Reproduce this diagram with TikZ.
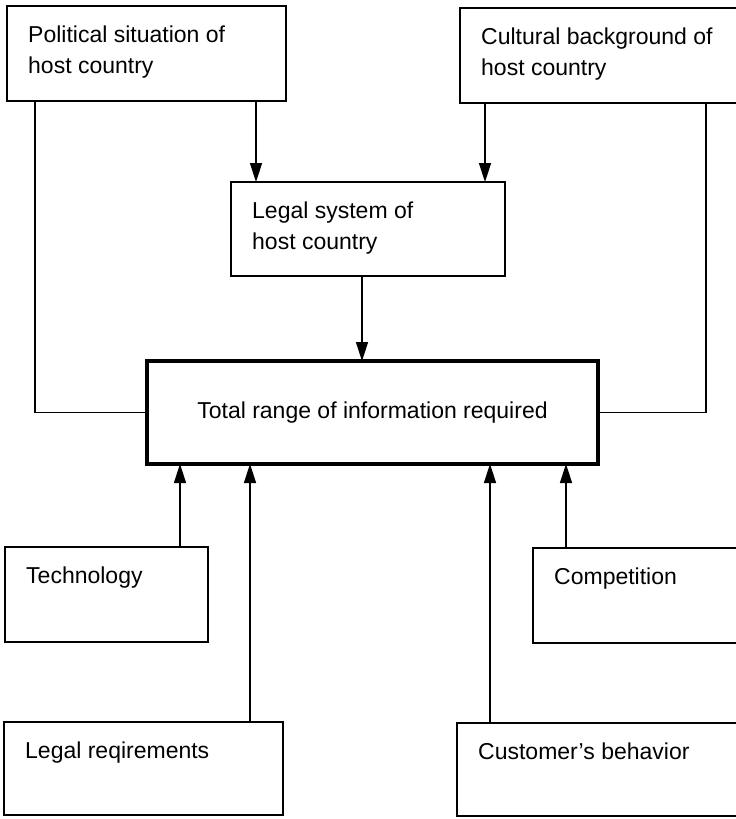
\documentclass[tikz,border=0pt]{standalone}
\usepackage{fontspec}
\setmainfont{Liberation Sans}
\usetikzlibrary{arrows.meta}
\begin{document}
\begin{tikzpicture}[x=1pt,y=-1pt,
  box/.style={draw, line width=1.5pt, rectangle, anchor=north west, inner sep=0pt, outer sep=0pt},
  mainbox/.style={draw, line width=3.8pt, rectangle, anchor=north west, inner sep=0pt, outer sep=0pt,
    font=\fontsize{23}{31}\selectfont},
  txt/.style={anchor=north west, inner sep=0pt, align=left, font=\fontsize{23}{31}\selectfont,
    xshift=21pt, yshift=-20pt},
  link/.style={line width=1.5pt},
  arr/.style={link, -{Triangle[length=19pt,width=12pt]}},
]
\clip (0,0) rectangle (736,819);

% top row
\node[box, minimum width=279pt, minimum height=95pt,
  label={[txt]north west:Political situation of\\host country}] (pol) at (7,6) {};
\node[box, minimum width=280pt, minimum height=95pt,
  label={[txt]north west:Cultural background of\\host country}] (cul) at (460,8) {};

% middle
\node[box, minimum width=274pt, minimum height=94pt,
  label={[txt]north west:Legal system of\\host country}] (leg) at (231,182) {};
\node[mainbox, minimum width=451pt, minimum height=103pt] (tot) at (147,361)
  {Total range of information required};

% lower boxes
\node[box, minimum width=203pt, minimum height=95pt,
  label={[txt]north west:Technology}] (tech) at (5,547) {};
\node[box, minimum width=207pt, minimum height=95pt,
  label={[txt]north west:Competition}] (comp) at (533,548) {};
\node[box, minimum width=279pt, minimum height=93pt,
  label={[txt]north west:Legal reqirements}] (lreq) at (4,722) {};
\node[box, minimum width=283pt, minimum height=93pt,
  label={[txt]north west:Customer's behavior}] (cust) at (457,723) {};

% influences on the legal system
\draw[arr] ([xshift=249pt]pol.south west) coordinate (pa) -- (pa |- leg.north);
\draw[arr] ([xshift=25pt]cul.south west) coordinate (ca) -- (ca |- leg.north);
\draw[arr] ([xshift=131pt]leg.south west) coordinate (la) -- (la |- tot.north);

% direct side links
\draw[link] ([xshift=28pt]pol.south west) coordinate (pl) -- (pl |- tot.west) -- (tot.west);
\draw[link] ([xshift=246pt]cul.south west) coordinate (cr) -- (cr |- tot.east) -- (tot.east);

% inputs from below
\draw[arr] ([xshift=175pt]tech.north west) coordinate (ta) -- (ta |- tot.south);
\draw[arr] ([xshift=246pt]lreq.north west) coordinate (ra) -- (ra |- tot.south);
\draw[arr] ([xshift=33pt]cust.north west) coordinate (ua) -- (ua |- tot.south);
\draw[arr] ([xshift=33pt]comp.north west) coordinate (ma) -- (ma |- tot.south);
\end{tikzpicture}
\end{document}
